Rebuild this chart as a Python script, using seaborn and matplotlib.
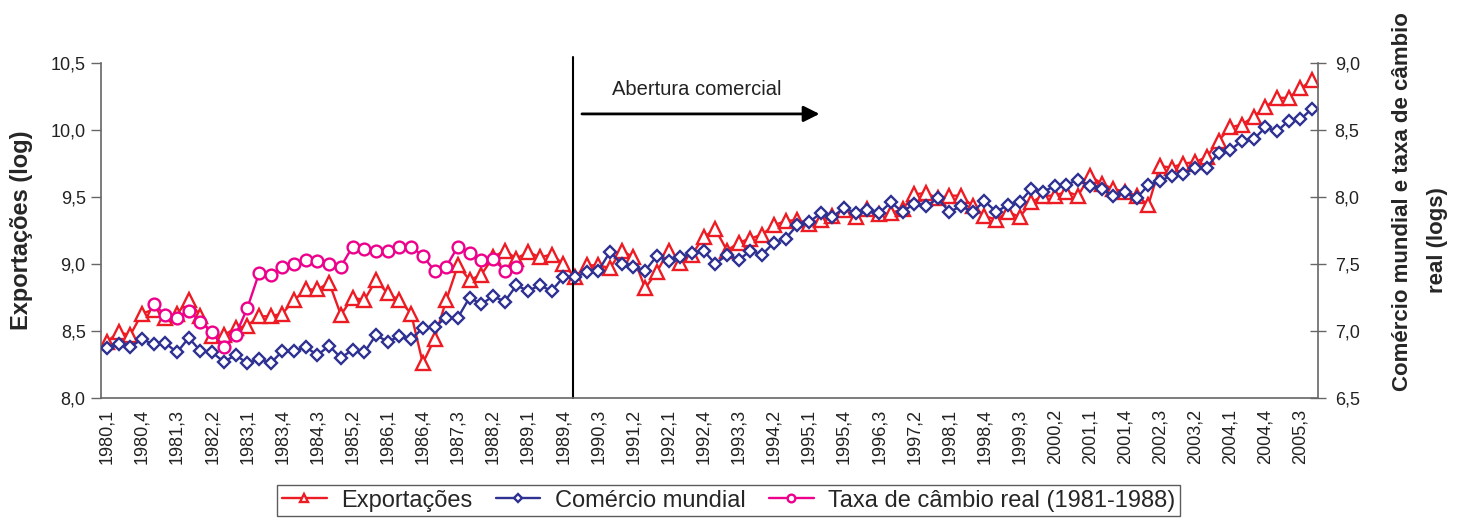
import matplotlib
matplotlib.use("Agg")
import matplotlib.pyplot as plt
import seaborn as sns
from matplotlib.ticker import FuncFormatter, MultipleLocator

# Theme, then fonts (set_style resets font.family)
sns.set_style("white")
plt.rcParams["font.family"] = ["Liberation Sans", "DejaVu Sans"]

# -------------------------
# Data (quarterly, 1980,1 - 2005,4)
# -------------------------
quarters = [f"{y},{q}" for y in range(1980, 2006) for q in range(1, 5)]

# Exportações (log) - left axis
exportacoes = [
    8.42, 8.49, 8.47, 8.63, 8.66, 8.60, 8.63, 8.73, 8.61, 8.46,
    8.47, 8.52, 8.54, 8.61, 8.61, 8.63, 8.73, 8.81, 8.81, 8.86,
    8.62, 8.75, 8.73, 8.88, 8.78, 8.73, 8.63, 8.26, 8.44, 8.73,
    8.99, 8.88, 8.92, 9.05, 9.10, 9.04, 9.09, 9.05, 9.07, 9.00,
    8.90, 8.99, 8.99, 8.97, 9.10, 9.05, 8.82, 8.94, 9.10, 9.01,
    9.07, 9.20, 9.26, 9.10, 9.16, 9.19, 9.22, 9.29, 9.32, 9.33,
    9.30, 9.33, 9.36, 9.40, 9.35, 9.41, 9.37, 9.38, 9.41, 9.52,
    9.53, 9.49, 9.51, 9.51, 9.43, 9.36, 9.33, 9.39, 9.35, 9.46,
    9.51, 9.51, 9.54, 9.51, 9.66, 9.60, 9.56, 9.54, 9.51, 9.44,
    9.73, 9.72, 9.75, 9.76, 9.80, 9.92, 10.02, 10.04, 10.10, 10.17,
    10.24, 10.24, 10.31, 10.37,
]

# Comércio mundial (log) - right axis
comercio_mundial = [
    6.87, 6.90, 6.88, 6.94, 6.90, 6.91, 6.84, 6.95, 6.85, 6.84,
    6.77, 6.82, 6.76, 6.79, 6.76, 6.85, 6.85, 6.88, 6.82, 6.89,
    6.80, 6.86, 6.84, 6.97, 6.92, 6.96, 6.94, 7.02, 7.03, 7.10,
    7.10, 7.25, 7.20, 7.26, 7.22, 7.34, 7.30, 7.34, 7.30, 7.40,
    7.40, 7.44, 7.45, 7.59, 7.50, 7.48, 7.45, 7.56, 7.52, 7.55,
    7.58, 7.60, 7.50, 7.57, 7.53, 7.60, 7.57, 7.66, 7.69, 7.79,
    7.81, 7.88, 7.85, 7.92, 7.88, 7.90, 7.88, 7.96, 7.89, 7.95,
    7.93, 7.99, 7.89, 7.93, 7.89, 7.97, 7.89, 7.94, 7.96, 8.06,
    8.04, 8.08, 8.09, 8.13, 8.08, 8.06, 8.01, 8.04, 7.99, 8.09,
    8.12, 8.16, 8.17, 8.22, 8.22, 8.33, 8.35, 8.42, 8.43, 8.52,
    8.49, 8.57, 8.58, 8.66,
]

# Taxa de câmbio real (log), 1981,1 - 1988,4 - right axis
cambio_inicio = "1981,1"
taxa_cambio = [
    7.20, 7.12, 7.10, 7.15, 7.07, 6.99, 6.88, 6.97, 7.17, 7.43,
    7.42, 7.48, 7.50, 7.53, 7.52, 7.50, 7.48, 7.63, 7.61, 7.60,
    7.60, 7.63, 7.63, 7.56, 7.45, 7.48, 7.63, 7.58, 7.53, 7.54,
    7.45, 7.48,
]

labels = ["Exportações", "Comércio mundial", "Taxa de câmbio real (1981-1988)"]
red, blue, pink = "#ED1C24", "#2E3192", "#EC008C"

x_all = list(range(len(quarters)))
start = quarters.index(cambio_inicio)
x_cambio = list(range(start, start + len(taxa_cambio)))

# -------------------------
# Figure
# -------------------------
fig = plt.figure(figsize=(14.57, 5.18), dpi=100)
ax = fig.add_axes([101 / 1457, 1 - 398 / 518, 1217 / 1457, 335 / 518])
ax2 = ax.twinx()

line_kw = dict(lw=1.7, markerfacecolor="white", markeredgewidth=1.7, legend=False)
sns.lineplot(x=x_all, y=exportacoes, ax=ax, color=red, marker="^",
             markersize=9.5, markeredgecolor=red, **line_kw)
sns.lineplot(x=x_all, y=comercio_mundial, ax=ax2, color=blue, marker="D",
             markersize=6.5, markeredgecolor=blue, **line_kw)
sns.lineplot(x=x_cambio, y=taxa_cambio, ax=ax2, color=pink, marker="o",
             markersize=8.5, markeredgecolor=pink, **line_kw)

# Axes limits / ticks
comma = FuncFormatter(lambda v, p: f"{v:.1f}".replace(".", ","))
ax.set_xlim(-0.5, len(quarters) - 0.5)
ax.set_ylim(8.0, 10.5)
ax2.set_ylim(6.5, 9.0)
for a in (ax, ax2):
    a.yaxis.set_major_locator(MultipleLocator(0.5))
    a.yaxis.set_major_formatter(comma)

ax.set_xticks(x_all[::3])
ax.set_xticklabels(quarters[::3], rotation=90, fontsize=13, color="#222222")
ax.set_xticks([i - 0.5 for i in range(len(quarters) + 1)], minor=True)
ax.tick_params(axis="x", which="major", length=0, pad=8)
ax.tick_params(axis="x", which="minor", length=4, width=1, color="#555555",
               direction="out")
ax.tick_params(axis="y", direction="out", length=7, width=1, color="#666666",
               labelsize=13, labelcolor="#222222", pad=4, right=False)
ax2.tick_params(axis="y", direction="inout", length=12, width=1,
                color="#666666", labelsize=13, labelcolor="#222222", pad=6)

for s in ("top", "right"):
    ax.spines[s].set_visible(False)
for s in ("top", "left", "bottom"):
    ax2.spines[s].set_visible(False)
for sp in (ax.spines["left"], ax.spines["bottom"], ax2.spines["right"]):
    sp.set_color("#666666")
    sp.set_linewidth(1.2)
ax.set_xlabel("")
ax.set_ylabel("")
ax2.set_ylabel("")

# Opening marker and arrow
ax.axvline(39.8, ymin=0, ymax=1.018, color="black", lw=1.5, clip_on=False)
ax.annotate("", xy=(60.9, 10.12), xytext=(40.6, 10.12),
            arrowprops=dict(arrowstyle="-|>", color="black", lw=2,
                            mutation_scale=24, shrinkA=0, shrinkB=0))
ax.text(43.2, 10.30, "Abertura comercial", fontsize=14.5, ha="left",
        va="center", color="#222222")

# Axis titles
fig.text(22 / 1457, 1 - 230 / 518, "Exportações (log)", rotation=90,
         fontsize=17, fontweight="bold", ha="center", va="center")
fig.text(1402 / 1457, 1 - 202 / 518, "Comércio mundial e taxa de câmbio",
         rotation=90, fontsize=16, fontweight="bold", ha="center", va="center")
fig.text(1437 / 1457, 1 - 240 / 518, "real (logs)", rotation=90,
         fontsize=16, fontweight="bold", ha="center", va="center")

# Legend
handles = [ax.lines[0], ax2.lines[0], ax2.lines[1]]
leg = fig.legend(handles, labels, loc="upper center",
                 bbox_to_anchor=(0.5, 1 - 485 / 518), ncol=3, frameon=True,
                 fancybox=False, edgecolor="#333333", fontsize=17,
                 handlelength=1.9, handletextpad=0.6, columnspacing=1.0,
                 markerscale=0.65, borderpad=0.2, borderaxespad=0)
leg.get_frame().set_linewidth(1.0)

fig.savefig("out.png", dpi=100)
